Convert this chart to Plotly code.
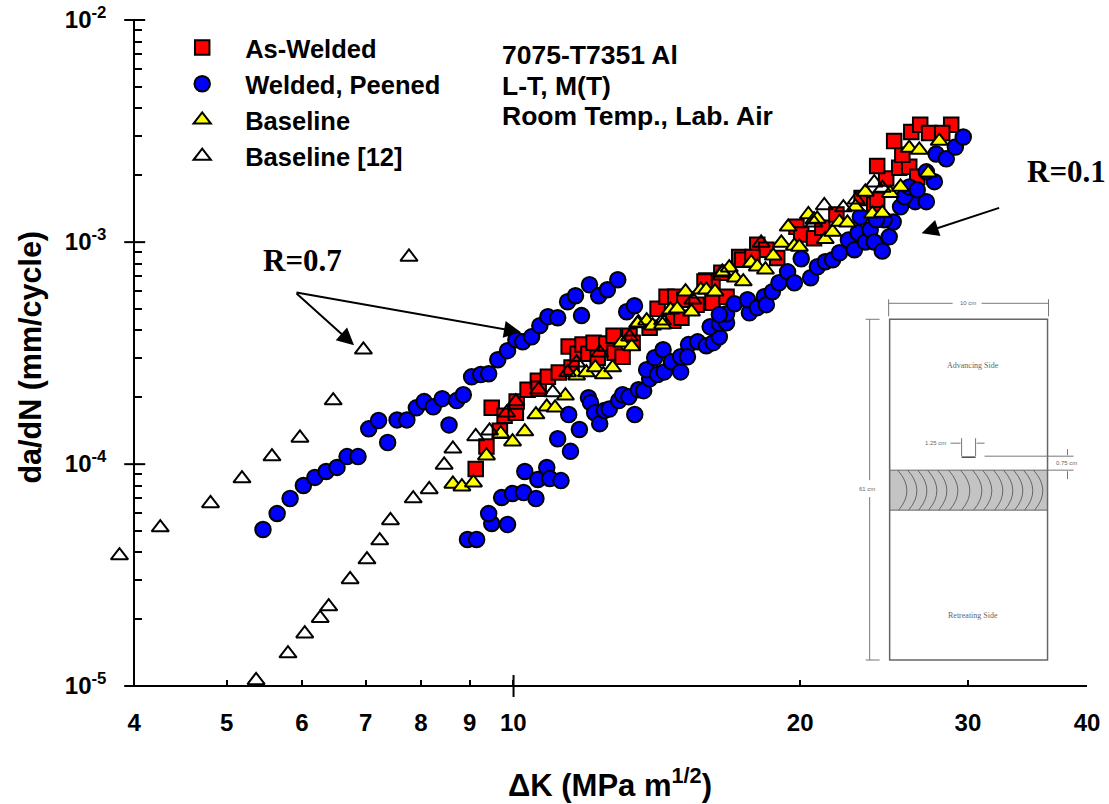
import math
import plotly.graph_objects as go

# ---- data: delta-K (MPa m^1/2), da/dN (mm/cycle) ----
as_welded_dk = [9.13,9.37,9.68,9.49,9.79,10.06,10.08,10.35,10.61,10.63,10.87,11.16,11.51,11.43,11.68,11.82,11.99,12.14,12.26,12.52,12.77,13.02,12.74,13.24,13.34,13.9,14.17,14.48,14.72,15.01,14.79,15.12,15.57,15.94,16.18,16.53,16.74,16.18,17.26,15.87,17.39,18.03,18.43,17.82,18.92,19.82,20.05,20.68,21.1,21.83,23.2,23.92,24.09,24.62,24.09,25.41,26.03,25.6,26.54,25.1,26.16,26.73,27.31,28.81,28.19]
as_welded_rate = [9.5e-5,1.20e-4,1.41e-4,1.79e-4,1.65e-4,1.70e-4,1.91e-4,2.16e-4,2.37e-4,2.18e-4,2.47e-4,2.58e-4,2.72e-4,3.38e-4,3.14e-4,3.45e-4,3.14e-4,3.52e-4,3.01e-4,3.49e-4,3.17e-4,3.04e-4,3.78e-4,3.78e-4,3.52e-4,4.11e-4,5.0e-4,5.67e-4,4.42e-4,4.56e-4,5.67e-4,5.49e-4,5.22e-4,6.7e-4,5.33e-4,7.26e-4,5.67e-4,6.28e-4,8.56e-4,6.63e-4,8.32e-4,9.71e-4,9.22e-4,8.56e-4,8.46e-4,1.17e-3,1.08e-3,1.04e-3,1.16e-3,1.33e-3,1.58e-3,1.47e-3,1.55e-3,1.93e-3,2.20e-3,2.16e-3,2.18e-3,2.47e-3,1.97e-3,2.85e-3,3.13e-3,3.37e-3,3.1e-3,3.37e-3,3.1e-3]

peened_r07_dk = [5.46,5.65,5.83,6.02,6.19,6.36,6.53,6.69,6.87,7.05,7.22,7.38,7.55,7.73,7.91,8.06,8.24,8.42,8.56,8.72,8.86,9.04,9.24,9.42,9.63,9.86,10.06,10.23,10.45,10.66,10.87,11.13,11.40,11.62,11.79,12.02,12.29,12.55,12.87,13.15,13.40]
peened_r07_rate = [5.07e-5,5.98e-5,6.99e-5,8.0e-5,8.7e-5,9.25e-5,9.65e-5,1.08e-4,1.08e-4,1.44e-4,1.57e-4,1.25e-4,1.58e-4,1.58e-4,1.79e-4,1.91e-4,1.81e-4,1.97e-4,1.50e-4,1.93e-4,2.05e-4,2.47e-4,2.53e-4,2.55e-4,2.95e-4,3.24e-4,3.63e-4,3.55e-4,3.74e-4,4.20e-4,4.61e-4,4.56e-4,5.38e-4,5.73e-4,4.66e-4,6.42e-4,5.73e-4,6.09e-4,6.76e-4,4.85e-4,5.16e-4]

peened_r01_dk = [8.95,9.15,9.49,9.86,9.42,9.72,9.98,10.25,10.56,10.28,10.61,10.84,10.92,11.22,11.48,11.13,11.73,11.43,11.99,12.05,12.17,12.32,12.46,12.61,12.90,13.02,13.22,13.41,13.53,13.70,13.9,13.8,14.17,14.07,14.36,14.40,14.65,14.98,14.98,15.27,15.23,15.61,15.94,16.21,16.45,16.09,16.45,16.74,16.74,17.06,16.45,17.69,17.61,18.03,18.34,18.43,18.70,19.0,19.4,19.72,20.05,20.51,20.85,21.25,21.63,21.99,22.47,22.8,23.0,23.41,23.69,23.92,24.39,24.8,25.04,24.5,24.04,23.13,25.49,26.41,27.13,25.73,26.03,26.54,27.66,27.13,27.78,28.47,29.1,29.66]
peened_r01_rate = [4.57e-5,4.57e-5,5.39e-5,5.34e-5,5.98e-5,7.06e-5,7.36e-5,7.44e-5,6.99e-5,9.25e-5,8.52e-5,9.65e-5,8.6e-5,8.42e-5,1.14e-4,1.30e-4,1.43e-4,1.67e-4,1.99e-4,1.89e-4,1.70e-4,1.52e-4,1.74e-4,1.77e-4,1.93e-4,2.05e-4,2.01e-4,1.67e-4,2.16e-4,2.14e-4,2.42e-4,2.66e-4,2.53e-4,3.01e-4,3.27e-4,2.60e-4,2.89e-4,2.60e-4,3.04e-4,3.45e-4,3.04e-4,3.55e-4,3.41e-4,3.52e-4,3.74e-4,4.15e-4,4.29e-4,4.33e-4,4.75e-4,5.27e-4,4.71e-4,4.80e-4,5.49e-4,5.06e-4,5.67e-4,5.22e-4,5.97e-4,6.55e-4,7.34e-4,6.55e-4,8.4e-4,6.9e-4,7.74e-4,8.15e-4,8.32e-4,8.94e-4,1.02e-3,9.22e-4,1.10e-3,1.0e-3,1.135e-3,1.0e-3,9.1e-4,1.055e-3,1.23e-3,1.26e-3,1.26e-3,1.30e-3,1.44e-3,1.52e-3,1.52e-3,1.60e-3,1.77e-3,1.72e-3,1.87e-3,2.07e-3,2.49e-3,2.37e-3,2.68e-3,2.97e-3]

baseline_dk = [8.64,8.83,9.08,9.37,9.70,9.98,10.28,10.56,10.84,11.06,11.34,11.65,11.93,12.19,12.43,12.71,12.99,13.31,13.53,13.8,14.0,14.34,14.62,14.86,15.16,15.38,15.73,15.94,16.28,16.57,16.85,17.1,17.43,17.77,18.03,18.39,18.74,19.11,19.72,19.96,19.43,20.4,20.68,20.84,21.25,21.63,21.99,22.42,22.86,23.41,23.81,24.39,24.86,25.49,27.25,26.03,26.67,27.99]
baseline_rate = [8.13e-5,7.9e-5,8.24e-5,1.09e-4,1.37e-4,1.26e-4,1.40e-4,1.67e-4,1.81e-4,1.79e-4,2.03e-4,2.50e-4,2.58e-4,2.72e-4,2.53e-4,2.72e-4,3.52e-4,3.38e-4,4.33e-4,4.42e-4,4.2e-4,4.24e-4,4.95e-4,5.0e-4,5.97e-4,4.85e-4,6.09e-4,6.09e-4,5.97e-4,7.26e-4,7.66e-4,6.9e-4,6.63e-4,8.07e-4,7.74e-4,7.5e-4,8.66e-4,9.9e-4,9.6e-4,9.5e-4,1.17e-3,1.33e-3,1.26e-3,1.27e-3,1.03e-3,1.11e-3,1.23e-3,1.22e-3,1.44e-3,1.68e-3,1.34e-3,1.35e-3,1.66e-3,1.77e-3,2.05e-3,2.65e-3,2.6e-3,2.85e-3]

baseline12_dk = [3.86,4.26,4.81,5.19,5.58,5.97,6.47,6.96,7.77,5.37,5.80,6.04,6.27,6.40,6.74,7.02,7.24,7.43,7.85,8.16,8.46,8.64,9.13,9.44,9.84,10.06,10.63,11.0,11.4,11.65,12.32,13.24,13.5,14.34,15.43,16.57,18.2,20.68,21.2,22.2,22.9,23.92,24.39]
baseline12_rate = [3.87e-5,5.17e-5,6.64e-5,8.6e-5,1.08e-4,1.31e-4,1.93e-4,3.27e-4,8.56e-4,1.06e-5,1.40e-5,1.72e-5,2.02e-5,2.28e-5,3.02e-5,3.71e-5,4.52e-5,5.57e-5,6.99e-5,7.68e-5,9.9e-5,1.17e-4,1.33e-4,1.41e-4,1.70e-4,1.91e-4,2.16e-4,2.10e-4,2.58e-4,2.86e-4,3.17e-4,3.74e-4,4.29e-4,4.42e-4,5.49e-4,7.34e-4,9.9e-4,1.22e-3,1.46e-3,1.43e-3,1.55e-3,1.85e-3,1.75e-3]

x_tick_vals = [4, 5, 6, 7, 8, 9, 10, 20, 30, 40]
y_tick_vals = [1e-5, 1e-4, 1e-3, 1e-2]
y_tick_text = ["10<sup>-5</sup>", "10<sup>-4</sup>", "10<sup>-3</sup>", "10<sup>-2</sup>"]
y_minor_vals = [m * 10.0 ** e for e in (-5, -4, -3) for m in range(2, 10)]

# ---- page geometry ----
W, H = 1109, 804
AX_L, AX_R, T, B = 134, 1087.5, 19.5, 686
X_MIN = 3.8   # the axis proper starts at 4; room is kept for the point just left of it
L = AX_L - (AX_R - AX_L) * math.log10(4 / X_MIN)
R = AX_R
PW, PH = R - L, B - T
def fx(px): return (px - L) / PW
def fy(py): return (B - py) / PH

SANS = "Liberation Sans, Arial, sans-serif"
SERIF = "Liberation Serif, Times New Roman, serif"
BLACK = "#000000"
GREY = "#777777"

fig = go.Figure()
def add(name, xs, ys, symbol, size, fill):
    fig.add_trace(go.Scatter(x=xs, y=ys, mode="markers", name=name, cliponaxis=False,
        marker=dict(symbol=symbol, size=size, color=fill, line=dict(color=BLACK, width=2))))

add("As-Welded", as_welded_dk, as_welded_rate, "square", 14.5, "#ff0000")
add("Welded, Peened", peened_r01_dk + peened_r07_dk, peened_r01_rate + peened_r07_rate, "circle", 15.5, "#0000ff")
add("Baseline", baseline_dk, baseline_rate, "triangle-up", 15, "#ffff00")
fig.add_trace(go.Scatter(x=baseline12_dk, y=baseline12_rate, mode="markers", name="Baseline [12]",
    cliponaxis=False,
    marker=dict(symbol="triangle-up-open", size=15, color=BLACK, line=dict(color=BLACK, width=2))))

shapes = []
def line(x0, y0, x1, y1, color=BLACK, w=2):
    shapes.append(dict(type="line", xref="paper", yref="paper", x0=fx(x0), y0=fy(y0), x1=fx(x1), y1=fy(y1),
                       line=dict(color=color, width=w), layer="above"))

# x axis line and crossing major ticks
line(AX_L, B, AX_R, B)
for py in (T, 241.8, 464, B):
    line(124, py, 145, py)
line(513.6, 675, 513.6, 697)

# inset: specimen drawing
shapes.append(dict(type="rect", xref="paper", yref="paper", x0=fx(890), y0=fy(470), x1=fx(1048), y1=fy(510),
                   fillcolor="#c4c4c4", line=dict(width=0), layer="below"))
shapes.append(dict(type="rect", xref="paper", yref="paper", x0=fx(890), y0=fy(319), x1=fx(1048), y1=fy(660),
                   line=dict(color="#666666", width=1.5), layer="above"))
line(890, 470, 1048, 470, "#666666", 1)
line(890, 510, 1048, 510, "#666666", 1)
for m in (907, 917, 927, 937, 947, 958, 970, 982, 992, 1003, 1013, 1023, 1033, 1043):
    path = "M %.5f %.5f Q %.5f %.5f %.5f %.5f" % (fx(m - 9), fy(470), fx(m + 9), fy(490), fx(m - 8), fy(510))
    shapes.append(dict(type="path", xref="paper", yref="paper", path=path,
                       line=dict(color="#666666", width=1), layer="above"))
line(889, 303, 953, 303, GREY, 1)
line(982, 303, 1049, 303, GREY, 1)
line(889, 299, 889, 316, GREY, 1)
line(1049, 299, 1049, 316, GREY, 1)
line(870, 319, 870, 480, GREY, 1)
line(870, 497, 870, 660, GREY, 1)
line(866, 319, 880, 319, GREY, 1)
line(866, 660, 880, 660, GREY, 1)
line(962, 438, 962, 456, GREY, 1)
line(976, 438, 976, 456, GREY, 1)
line(962, 457, 976, 457, "#444444", 1.5)
line(985, 456, 1074, 456, GREY, 1)
line(1048, 470, 1074, 470, GREY, 1)
line(951, 443, 961, 443, GREY, 1)
line(977, 443, 985, 443, GREY, 1)
line(1068, 449, 1068, 455, GREY, 1)
line(1068, 471, 1068, 479, GREY, 1)

def text(px, py, s, size, color=BLACK, family=SANS, anchor="left", weight="normal", angle=0):
    return dict(xref="paper", yref="paper", x=fx(px), y=fy(py), text=s, showarrow=False,
                xanchor=anchor, yanchor="middle", textangle=angle,
                font=dict(family=family, size=size, color=color, weight=weight))

annotations = [
    text(500, 55, "7075-T7351 Al", 26.5, weight="bold"),
    text(500, 86, "L-T, M(T)", 26.5, weight="bold"),
    text(500, 116, "Room Temp., Lab. Air", 26.5, weight="bold"),
    text(261, 260, "R=0.7", 31, family=SERIF, weight="bold"),
    text(1025, 171, "R=0.1", 31, family=SERIF, weight="bold"),
    text(973, 365, "Advancing Side", 8, "#666666", SERIF, "center"),
    text(973, 615, "Retreating Side", 8, "#666666", SERIF, "center"),
    text(968, 303, "10 cm", 6, "#666666", SANS, "center"),
    text(867, 489, "61 cm", 6, "#666666", SANS, "center"),
    text(936, 443, "1.25 cm", 6, "#666666", SANS, "center"),
    text(1067, 463, "0.75 cm", 6, "#666666", SANS, "center"),
    text(610, 783, "ΔK (MPa m<sup>1/2</sup>)", 31, anchor="center", weight="bold"),
    text(30, 357, "da/dN (mm/cycle)", 30.5, anchor="center", weight="bold", angle=-90),
]
def arrow(x0, y0, x1, y1):
    return dict(xref="paper", yref="paper", x=fx(x1), y=fy(y1), ax=x0 - x1, ay=y0 - y1,
                axref="pixel", ayref="pixel", text="", showarrow=True,
                arrowhead=2, arrowsize=1.7, arrowwidth=2, arrowcolor=BLACK)
annotations += [arrow(295, 292, 354, 345), arrow(295, 292, 521, 332), arrow(1001, 207, 922, 233)]

fig.update_layout(
    width=W, height=H, autosize=False,
    margin=dict(l=L, r=W - R, t=T, b=H - B, pad=0),
    paper_bgcolor="#ffffff", plot_bgcolor="#ffffff",
    font=dict(family=SANS, color=BLACK),
    shapes=shapes, annotations=annotations,
    legend=dict(x=fx(159), y=fy(24), xanchor="left", yanchor="top", bgcolor="rgba(0,0,0,0)",
                itemsizing="trace", itemwidth=76,
                font=dict(family=SANS, size=25.5, color=BLACK, weight="bold")),
    xaxis=dict(type="log", range=[math.log10(X_MIN), math.log10(40)], showgrid=False, zeroline=False,
               showline=False, automargin=False,
               tickmode="array", tickvals=x_tick_vals, ticktext=[str(v) for v in x_tick_vals],
               ticks="inside", ticklen=6, tickwidth=2, tickcolor=BLACK, ticklabelstandoff=20,
               tickfont=dict(family=SANS, size=24, color=BLACK, weight="bold")),
    yaxis=dict(type="log", range=[-5, -2], showgrid=False, zeroline=False,
               showline=True, linecolor=BLACK, linewidth=2, automargin=False,
               anchor="free", position=fx(AX_L),
               tickmode="array", tickvals=y_tick_vals, ticktext=y_tick_text,
               ticks="", ticklabelstandoff=22,
               tickfont=dict(family=SANS, size=24, color=BLACK, weight="bold"),
               minor=dict(tickmode="array", tickvals=y_minor_vals, ticks="inside", ticklen=7, tickwidth=2, tickcolor=BLACK)),
)
fig.write_html("out.html", config={"displayModeBar": False}, post_script="document.body.style.margin='0';")
